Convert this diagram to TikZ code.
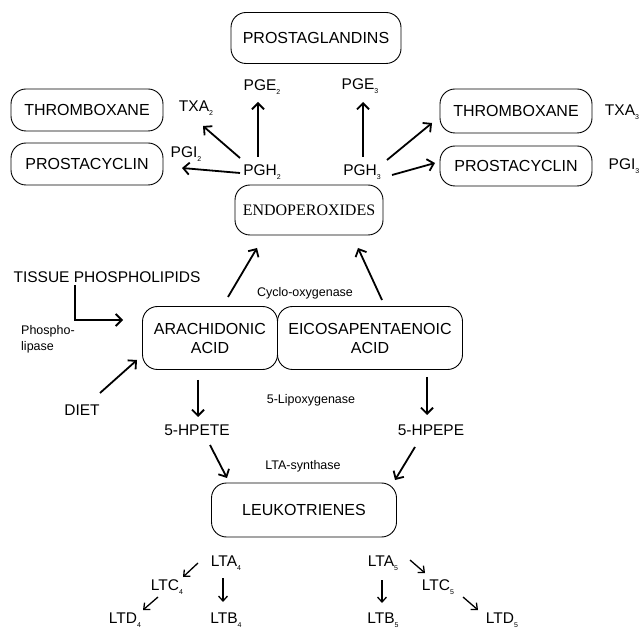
\documentclass[tikz,border=0pt]{standalone}
\usepackage{fontspec}
\setmainfont{Liberation Sans}
\newfontfamily\serifrm{Liberation Serif}
\usetikzlibrary{arrows.meta,calc}
\newcommand\sbs[1]{\raisebox{-0.5ex}{\fontsize{7}{7}\selectfont #1}}
\begin{document}
\begin{tikzpicture}[x=1pt,y=-1pt,
 box/.style={draw, line width=0.9pt, rounded corners=15pt, inner sep=0pt, align=center, font=\fontsize{16}{19}\selectfont},
 lab/.style={inner sep=1pt, font=\fontsize{15.5}{18}\selectfont},
 small/.style={inner sep=1pt, font=\fontsize{12.5}{16}\selectfont, align=left},
 arr/.style={line width=1.8pt, -{Straight Barb[length=6pt,width=12pt]}},
 sarr/.style={line width=1.3pt, -{Straight Barb[length=5pt,width=9pt]}}]
\useasboundingbox (0,0) rectangle (643,628);
% boxes
\node[box, minimum width=170, minimum height=51] (prost) at (316,38) {PROSTAGLANDINS};
\node[box, minimum width=152, minimum height=42] (thl) at (87,110) {THROMBOXANE};
\node[box, minimum width=152, minimum height=42] (pcl) at (87,164) {PROSTACYCLIN};
\node[box, minimum width=148, minimum height=50, font=\serifrm\fontsize{16}{19}\selectfont] (endo) at (309,210) {ENDOPEROXIDES};
\node[box, minimum width=152, minimum height=44] (thr) at (516,111) {THROMBOXANE};
\node[box, minimum width=152, minimum height=40] (pcr) at (516,166) {PROSTACYCLIN};
\node[box, minimum width=135, minimum height=63] (aa) at (210,338) {ARACHIDONIC\\ACID};
\node[box, minimum width=185, minimum height=63] (epa) at (370,338) {EICOSAPENTAENOIC\\ACID};
\node[box, minimum width=185, minimum height=54] (leuk) at (304,510) {LEUKOTRIENES};
% labels
\node[lab] (txa2) at (196,108) {TXA\sbs{2}};
\node[lab] (pgi2) at (186,154) {PGI\sbs{2}};
\node[lab] (pge2) at (262,87) {PGE\sbs{2}};
\node[lab] (pgh2) at (262,172) {PGH\sbs{2}};
\node[lab] (pge3) at (360,86) {PGE\sbs{3}};
\node[lab] (pgh3) at (362,172) {PGH\sbs{3}};
\node[lab] (txa3) at (622,112) {TXA\sbs{3}};
\node[lab] (pgi3) at (624,166) {PGI\sbs{3}};
\node[lab] (tissue) at (107,277) {TISSUE PHOSPHOLIPIDS};
\node[small, anchor=west] (phos) at (20,339) {Phospho-\\lipase};
\node[small] (cyclo) at (305,293) {Cyclo-oxygenase};
\node[lab] (diet) at (82,410) {DIET};
\node[lab] (hpete) at (197,430) {5-HPETE};
\node[small] (lipox) at (311,400) {5-Lipoxygenase};
\node[lab] (hpepe) at (431,430) {5-HPEPE};
\node[small] (ltasyn) at (303,466) {LTA-synthase};
\node[lab] (lta4) at (226,563) {LTA\sbs{4}};
\node[lab] (ltc4) at (167,587) {LTC\sbs{4}};
\node[lab] (ltd4) at (125,620) {LTD\sbs{4}};
\node[lab] (ltb4) at (226,620) {LTB\sbs{4}};
\node[lab] (lta5) at (383,563) {LTA\sbs{5}};
\node[lab] (ltc5) at (438,587) {LTC\sbs{5}};
\node[lab] (ltd5) at (502,620) {LTD\sbs{5}};
\node[lab] (ltb5) at (383,620) {LTB\sbs{5}};
% arrows
\draw[arr] ($(pgh2)+(-4,-15)$) -- ($(pge2)+(-4,15)$);
\draw[arr] ($(pgh2)+(-22,-14)$) -- ($(txa2)+(7,18)$);
\draw[arr] ($(pgh2)+(-22,1)$) -- ($(pcl)+(95,4)$);
\draw[arr] ($(pgh3)+(1,-15)$) -- ($(pge3)+(3,16)$);
\draw[arr] ($(pgh3)+(25,-12)$) -- ($(thr)+(-84,12)$);
\draw[arr] ($(pgh3)+(30,3)$) -- ($(pcr)+(-81,-3)$);
\draw[arr] ($(aa)+(18,-41)$) -- ($(endo)+(-52,38)$);
\draw[arr] ($(epa)+(12,-38)$) -- ($(endo)+(49,38)$);
\draw[arr] ($(tissue)+(-32,8)$) |- ($(aa)+(-87,-18)$);
\draw[arr] ($(diet)+(18,-17)$) -- ($(aa)+(-73,22)$);
\draw[arr] ($(aa)+(-12,42)$) -- ($(hpete)+(1,-13)$);
\draw[arr] ($(epa)+(57,39)$) -- ($(hpepe)+(-4,-15)$);
\draw[arr] ($(hpete)+(13,15)$) -- ($(leuk)+(-77,-32)$);
\draw[arr] ($(hpepe)+(-16,17)$) -- ($(leuk)+(91,-30)$);
\draw[sarr] ($(lta4)+(-28,0)$) -- ($(ltc4)+(16,-10)$);
\draw[sarr] ($(ltc4)+(-9,10)$) -- ($(ltd4)+(18,-10)$);
\draw[sarr] ($(lta4)+(-3,15)$) -- ($(ltb4)+(-3,-18)$);
\draw[sarr] ($(lta5)+(27,-3)$) -- ($(ltc5)+(-13,-14)$);
\draw[sarr] ($(ltc5)+(25,10)$) -- ($(ltd5)+(-24,-10)$);
\draw[sarr] ($(lta5)+(-1,17)$) -- ($(ltb5)+(-1,-17)$);
\end{tikzpicture}
\end{document}
